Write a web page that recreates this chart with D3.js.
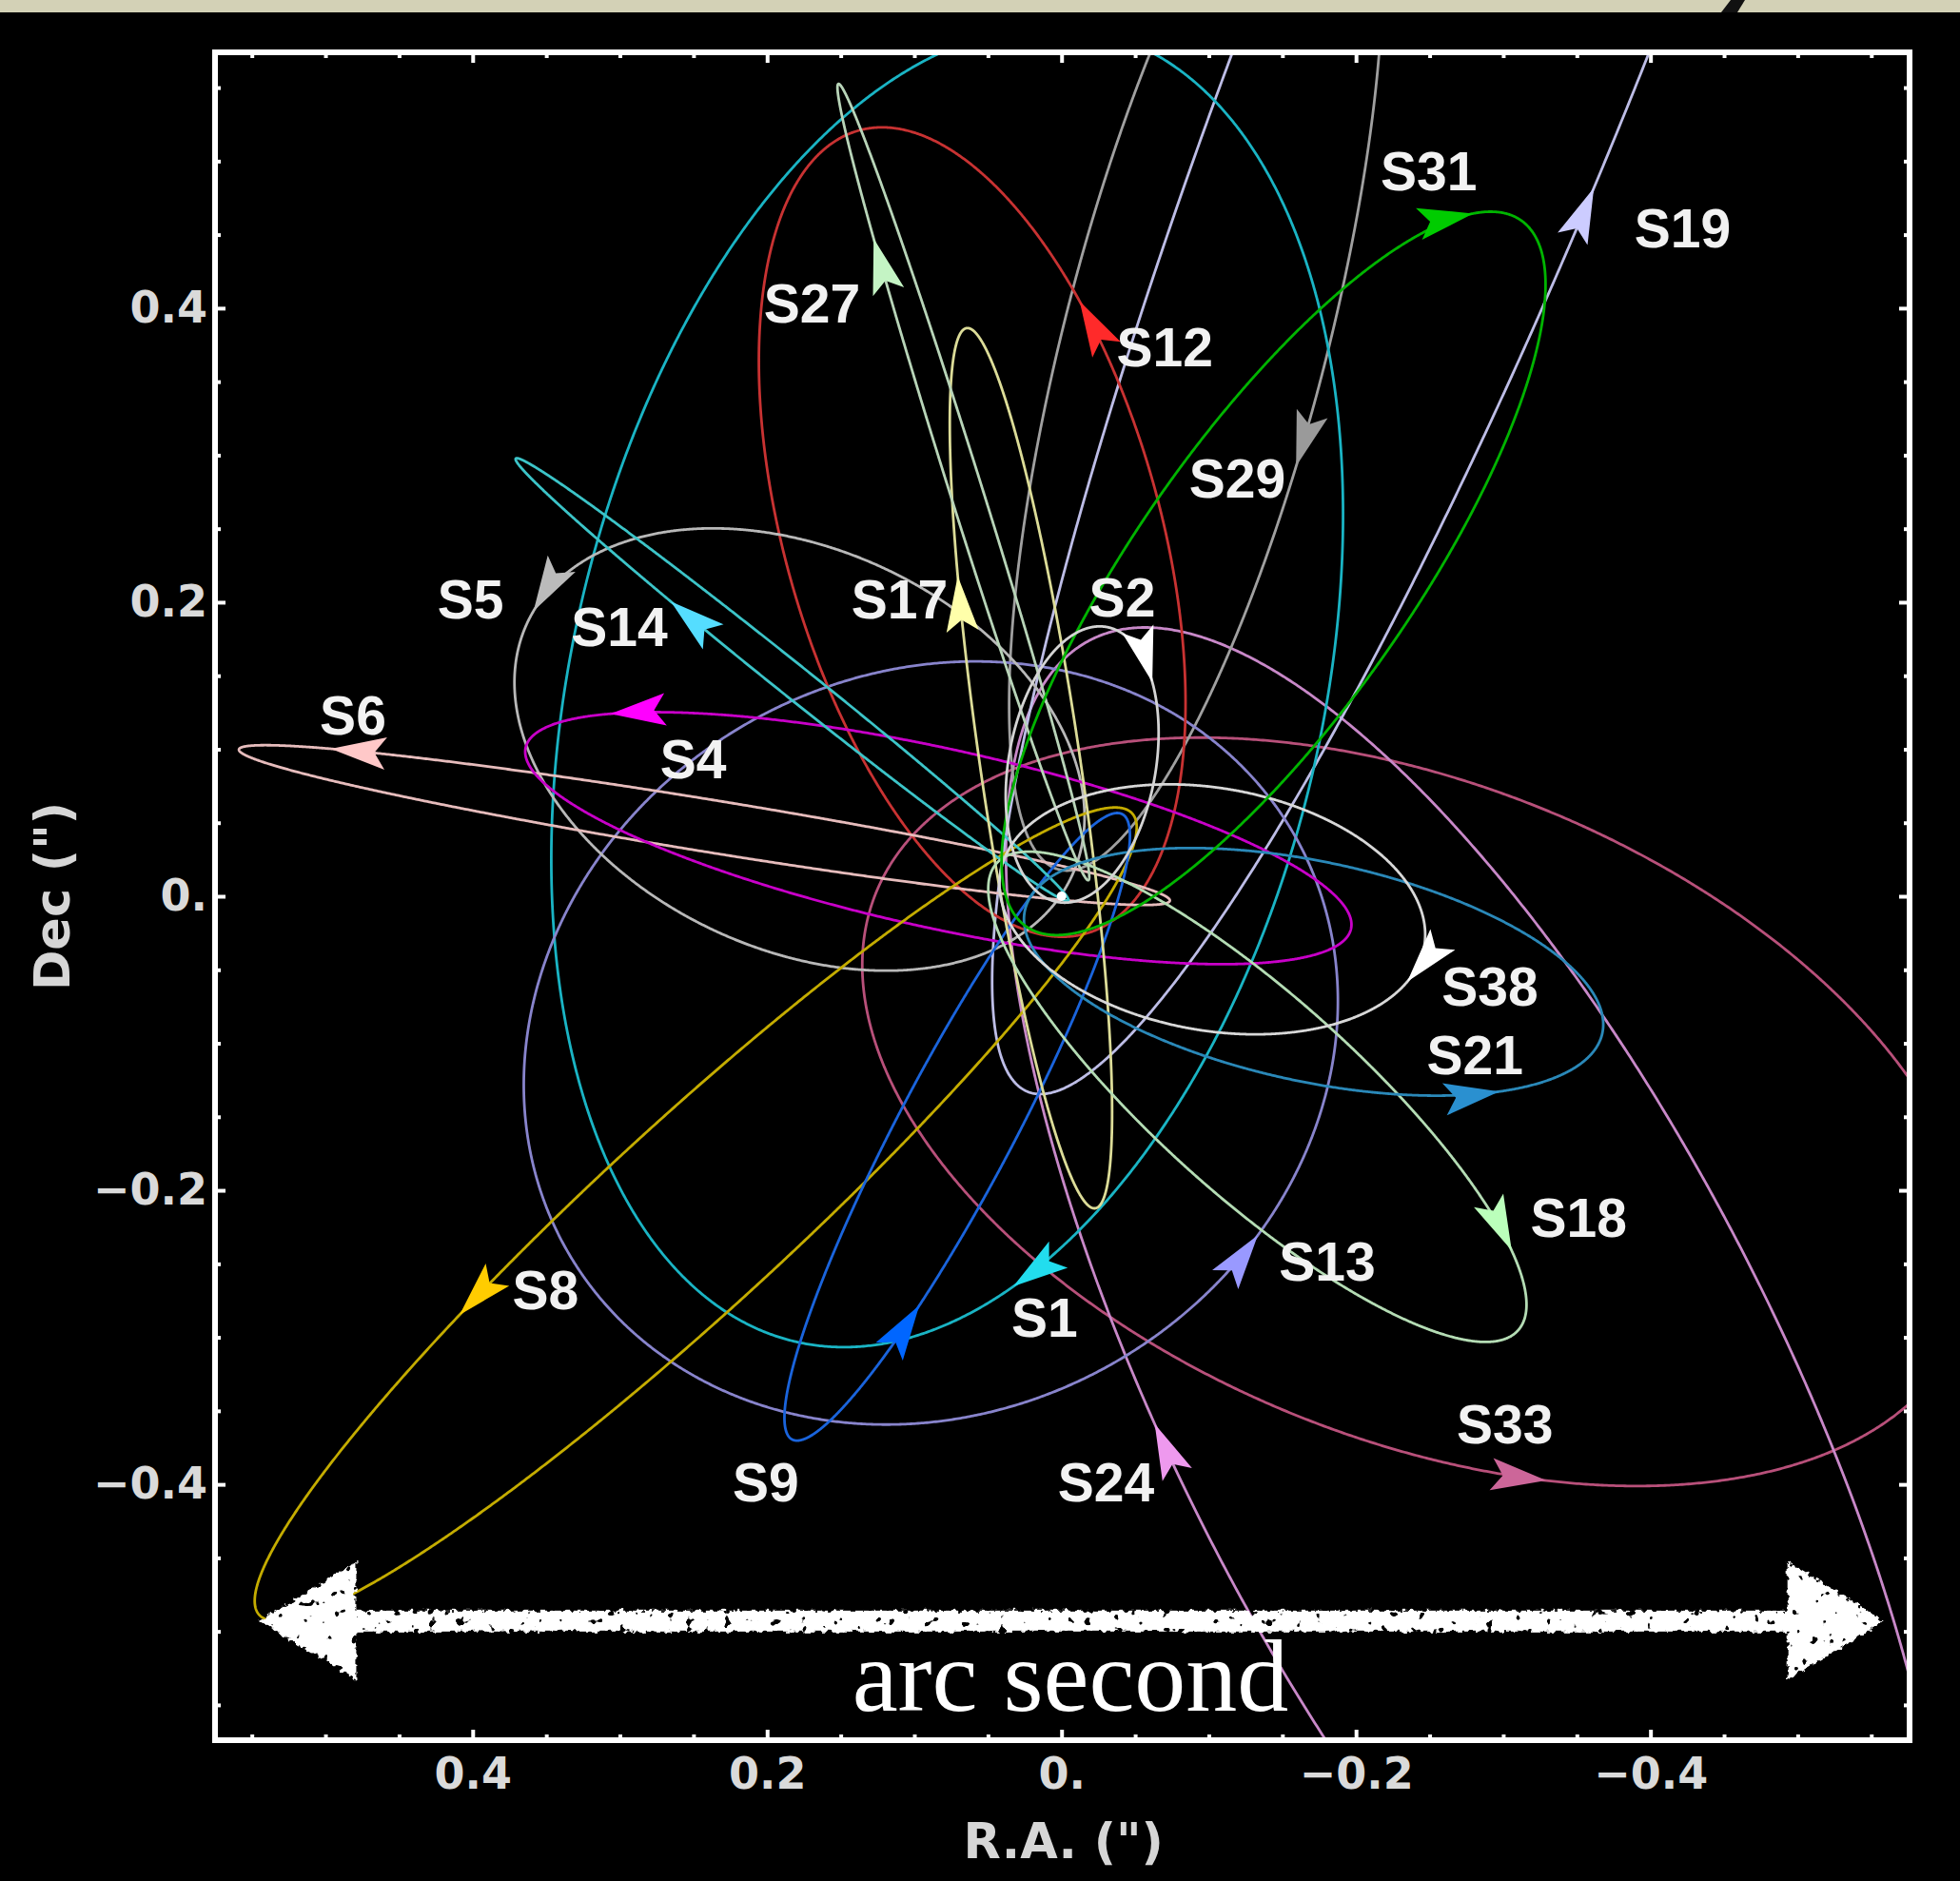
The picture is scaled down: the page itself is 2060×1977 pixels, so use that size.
<!DOCTYPE html>
<html>
<head>
<meta charset="utf-8">
<script src="https://cdn.jsdelivr.net/npm/d3@7"></script>
<style>
  html, body { margin: 0; padding: 0; background: #000; }
  svg { display: block; }
</style>
</head>
<body>
<svg id="chart" width="2060" height="1977"></svg>
<script>
// ---- Projected S-star orbits around Sgr A* (offsets in arcsec) ----
const starNames   = ["S33","S24","S19","S29","S1","S13","S12","S5","S6","S4","S8","S9","S14","S17","S27","S18","S21","S38","S31","S2"];
// ellipse centre (R.A., Dec), semi-axes and tilt of the long axis (deg, counter-clockwise on the sky image)
const centerRA    = [-0.2426,-0.2825,-0.2755,-0.0913, 0.0777, 0.0888, 0.0607, 0.1780, 0.2426, 0.0837, 0.2485, 0.0709, 0.1831, 0.0208, 0.0667,-0.1330,-0.1712,-0.1024,-0.1440,-0.0140];
const centerDec   = [-0.1466,-0.3411, 0.6206, 0.3802, 0.1423,-0.0998, 0.2477, 0.0998, 0.0484, 0.0395,-0.2162,-0.1568, 0.1474, 0.0871, 0.2817,-0.1364,-0.0514,-0.0089, 0.2196, 0.0896];
const semiMajor   = [ 0.3976, 0.5786, 0.8105, 0.3738, 0.4570, 0.2846, 0.2838, 0.2040, 0.3203, 0.2870, 0.4027, 0.2404, 0.2404, 0.3025, 0.2838, 0.2379, 0.2005, 0.1461, 0.2931, 0.0950];
const semiMinor   = [ 0.2226, 0.2056, 0.1321, 0.0892, 0.2550, 0.2506, 0.1274, 0.1360, 0.0178, 0.0610, 0.0637, 0.0391, 0.0110, 0.0340, 0.0110, 0.0680, 0.0748, 0.0824, 0.0935, 0.0500];
const tiltDeg     = [-22.0, -63.0,  68.4,  75.6,  77.0,  30.0, 105.8, -25.0, -9.24, -12.4,  42.6,  62.2, -38.7,  98.3, 107.4, -41.9, -12.0, -10.0,  55.0,  80.0];
const orbitColors = ["#b8507a","#c888c8","#bdbde6","#a0a0a0","#1ab4c4","#8884cc","#c83232","#b8b8b8","#e6bcbc","#c800c8","#c4ac00","#1a64dc","#3cc4c8","#dcdc98","#b8d4b8","#b4dcb4","#2a88b8","#d8d8d8","#00b400","#d4d4d4"];
const arrowColors = ["#cc6699","#ee99ee","#ccccff","#9a9a9a","#22ddee","#9999ff","#ff2a2a","#bbbbbb","#ffc8c8","#ff00ff","#ffcc00","#0066ff","#55ddff","#ffffaa","#c4f4c4","#bbffbb","#2a90d0","#ffffff","#00cc00","#ffffff"];
// arrowhead tip position and sense of motion (1 = counter-clockwise, -1 = clockwise)
const arrowRA     = [-0.3301,-0.0684,-0.3709,-0.1619, 0.0327,-0.1338,-0.0098, 0.3734, 0.4966, 0.3063, 0.4074, 0.1015, 0.2655, 0.0735, 0.1304,-0.3097,-0.2978,-0.2349,-0.2799,-0.0556];
const arrowDec    = [-0.3929,-0.3565, 0.4779, 0.2918,-0.2655,-0.2307, 0.4031, 0.2026, 0.0981, 0.1236,-0.2859,-0.2749, 0.2001, 0.2172, 0.4465,-0.2392,-0.1373,-0.0582, 0.4627, 0.1440];
const arrowSense  = [ 1, -1,  1, -1, -1,  1,  1,  1,  1,  1,  1,  1, -1, -1, -1, -1,  1, -1, -1, -1];
// star name positions
const labelRA     = [-0.3012,-0.0302,-0.4218,-0.1194, 0.0115,-0.1805,-0.0701, 0.4014, 0.4813, 0.2502, 0.3505, 0.2009, 0.3003, 0.1100, 0.1695,-0.3513,-0.2808,-0.2910,-0.2494,-0.0412];
const labelDec    = [-0.3589,-0.3989, 0.4541, 0.2842,-0.2868,-0.2485, 0.3734, 0.2018, 0.1228, 0.0930,-0.2681,-0.3989, 0.1831, 0.2018, 0.4031,-0.2188,-0.1083,-0.0616, 0.4932, 0.2035];

// axis ticks
const majorTicks  = [0.4, 0.2, 0, -0.2, -0.4];
const xTickLabels = ["0.4", "0.2", "0.", "\u22120.2", "\u22120.4"];
const yTickLabels = ["0.4", "0.2", "0.", "\u22120.2", "\u22120.4"];
const minorTicks  = d3.range(-11, 12).map(k => k * 0.05).filter(v => Math.abs(v * 5 - Math.round(v * 5)) > 1e-6);

// "arc second" scale bar (R.A. of both tips, Dec of the bar)
const scaleBarRA  = [0.545, -0.559];
const scaleBarDec = -0.493;
const scaleBarText = "arc second";
const scaleTextRA = -0.006, scaleTextDec = -0.554;

// ---- layout ----
const W = 2060, H = 1977;
const x = d3.scaleLinear().domain([0.575, -0.576]).range([226, 2007]);
const y = d3.scaleLinear().domain([-0.574, 0.574]).range([1829, 55]);
const [x0, x1] = x.range(), [y0, y1] = [y.range()[1], y.range()[0]];

const svg = d3.select("#chart");
const defs = svg.append("defs");

defs.append("clipPath").attr("id", "plotClip")
  .append("rect").attr("x", x0).attr("y", y0).attr("width", x1 - x0).attr("height", y1 - y0);

// chalky texture for the hand-drawn scale bar: ragged edges and a few dark specks
const chalk = defs.append("filter").attr("id", "chalk")
  .attr("x", "-5%").attr("y", "-30%").attr("width", "110%").attr("height", "160%");
chalk.append("feTurbulence").attr("type", "fractalNoise").attr("baseFrequency", 0.16)
  .attr("numOctaves", 2).attr("seed", 4).attr("result", "n1");
chalk.append("feDisplacementMap").attr("in", "SourceGraphic").attr("in2", "n1").attr("scale", 8)
  .attr("xChannelSelector", "R").attr("yChannelSelector", "G").attr("result", "rough");
chalk.append("feTurbulence").attr("type", "fractalNoise").attr("baseFrequency", 0.1)
  .attr("numOctaves", 2).attr("seed", 11).attr("result", "n2");
chalk.append("feColorMatrix").attr("in", "n2").attr("type", "matrix")
  .attr("values", "0 0 0 0 1  0 0 0 0 1  0 0 0 0 1  -22 0 0 0 16.2").attr("result", "holes");
chalk.append("feComposite").attr("in", "rough").attr("in2", "holes").attr("operator", "in");

// background and top strip
svg.append("rect").attr("width", W).attr("height", H).attr("fill", "#000");
svg.append("rect").attr("width", W).attr("height", 13).attr("fill", "#d3d1b6");
svg.append("path").attr("d", "M1819,0 L1834,0 L1826,13 L1809,13 Z").attr("fill", "#111");

// ---- orbits ----
function orbitPoint(i, t) {
  const a = semiMajor[i], b = semiMinor[i], ph = tiltDeg[i] * Math.PI / 180;
  const u = a * Math.cos(t), v = b * Math.sin(t);
  const right = u * Math.cos(ph) - v * Math.sin(ph);
  const up = u * Math.sin(ph) + v * Math.cos(ph);
  return [centerRA[i] - right, centerDec[i] + up];
}
const toScreen = p => [x(p[0]), y(p[1])];
const line = d3.line().x(d => x(d[0])).y(d => y(d[1])).curve(d3.curveLinearClosed);

const plot = svg.append("g").attr("clip-path", "url(#plotClip)");
const N = 1440;
plot.selectAll("path.orbit").data(starNames).join("path")
  .attr("class", "orbit")
  .attr("d", (s, i) => line(d3.range(N).map(k => orbitPoint(i, 2 * Math.PI * k / N))))
  .attr("fill", "none")
  .attr("stroke", (s, i) => orbitColors[i])
  .attr("stroke-width", 2.8);

// Sgr A*
plot.append("circle").attr("cx", x(0)).attr("cy", y(0)).attr("r", 5).attr("fill", "#fff");

// arrowheads showing the direction of motion
function arrowHead(i) {
  const target = toScreen([arrowRA[i], arrowDec[i]]);
  let best = 0, bestD = Infinity;
  for (let k = 0; k < 3600; k++) {
    const t = 2 * Math.PI * k / 3600;
    const p = toScreen(orbitPoint(i, t));
    const d = (p[0] - target[0]) ** 2 + (p[1] - target[1]) ** 2;
    if (d < bestD) { bestD = d; best = t; }
  }
  const p1 = toScreen(orbitPoint(i, best));
  const p2 = toScreen(orbitPoint(i, best + arrowSense[i] * 0.002));
  let dx = p2[0] - p1[0], dy = p2[1] - p1[1];
  const len = Math.hypot(dx, dy); dx /= len; dy /= len;
  const nx = -dy, ny = dx;
  const L = 58, Wd = 17, notch = 12;
  const pts = [
    [p1[0], p1[1]],
    [p1[0] - L * dx + Wd * nx, p1[1] - L * dy + Wd * ny],
    [p1[0] - (L - notch) * dx, p1[1] - (L - notch) * dy],
    [p1[0] - L * dx - Wd * nx, p1[1] - L * dy - Wd * ny]
  ];
  return "M" + pts.map(p => p[0].toFixed(1) + "," + p[1].toFixed(1)).join("L") + "Z";
}
plot.selectAll("path.head").data(starNames).join("path")
  .attr("class", "head")
  .attr("d", (s, i) => arrowHead(i))
  .attr("fill", (s, i) => arrowColors[i]);

// star names
svg.append("g").selectAll("text").data(starNames).join("text")
  .attr("x", (s, i) => x(labelRA[i]))
  .attr("y", (s, i) => y(labelDec[i]))
  .attr("text-anchor", "middle")
  .attr("dominant-baseline", "central")
  .attr("font-family", "'Liberation Sans', Arial, sans-serif")
  .attr("font-weight", "bold")
  .attr("font-size", 57)
  .attr("fill", "#f2f2f2")
  .text(s => s);

// ---- frame and ticks ----
svg.append("rect").attr("x", x0).attr("y", y0).attr("width", x1 - x0).attr("height", y1 - y0)
  .attr("fill", "none").attr("stroke", "#fff").attr("stroke-width", 6);

const tickFont = "'DejaVu Sans', Verdana, sans-serif";
function styleAxis(g, withText) {
  g.select(".domain").remove();
  g.selectAll(".tick line").attr("stroke", "#fff").attr("stroke-width", 4);
  g.selectAll(".tick text")
    .attr("font-family", tickFont).attr("font-weight", "bold").attr("font-size", 46)
    .attr("fill", "#dadada");
  if (!withText) g.selectAll(".tick text").remove();
}
svg.append("g").attr("transform", `translate(0,${y1})`)
  .call(d3.axisBottom(x).tickValues(majorTicks).tickFormat((d, i) => xTickLabels[i]).tickSize(-11).tickPadding(18))
  .call(g => styleAxis(g, true));
svg.append("g").attr("transform", `translate(0,${y0})`)
  .call(d3.axisTop(x).tickValues(majorTicks).tickSize(-11).tickFormat(""))
  .call(g => styleAxis(g, false));
svg.append("g").attr("transform", `translate(${x0},0)`)
  .call(d3.axisLeft(y).tickValues(majorTicks).tickFormat((d, i) => yTickLabels[i]).tickSize(-11).tickPadding(8))
  .call(g => styleAxis(g, true));
svg.append("g").attr("transform", `translate(${x1},0)`)
  .call(d3.axisRight(y).tickValues(majorTicks).tickSize(-11).tickFormat(""))
  .call(g => styleAxis(g, false));
// minor ticks
[[d3.axisBottom(x), `translate(0,${y1})`], [d3.axisTop(x), `translate(0,${y0})`],
 [d3.axisLeft(y), `translate(${x0},0)`], [d3.axisRight(y), `translate(${x1},0)`]].forEach(([ax, tr]) => {
  svg.append("g").attr("transform", tr)
    .call(ax.tickValues(minorTicks).tickSize(-6).tickFormat(""))
    .call(g => styleAxis(g, false));
});

// axis titles
svg.append("text").attr("x", x(0) + 2).attr("y", 1953)
  .attr("text-anchor", "middle").attr("font-family", tickFont).attr("font-weight", "bold")
  .attr("font-size", 51).attr("fill", "#d6d6d6").text("R.A. (\")");
svg.append("text").attr("transform", `translate(73,${y(0)}) rotate(-90)`)
  .attr("text-anchor", "middle").attr("font-family", tickFont).attr("font-weight", "bold")
  .attr("font-size", 51).attr("fill", "#d6d6d6").text("Dec (\")");

// ---- hand-drawn scale bar ----
const bar = svg.append("g").attr("filter", "url(#chalk)");
const bxL = x(scaleBarRA[0]), bxR = x(scaleBarRA[1]), by = y(scaleBarDec);
const headL = 102, headW = 62;
bar.append("rect").attr("x", bxL + headL - 10).attr("y", by - 11)
  .attr("width", bxR - bxL - 2 * headL + 20).attr("height", 22).attr("fill", "#fff");
bar.append("path").attr("d", `M${bxL},${by} L${bxL + headL},${by - headW} L${bxL + headL},${by + headW} Z`).attr("fill", "#fff");
bar.append("path").attr("d", `M${bxR},${by} L${bxR - headL},${by - headW} L${bxR - headL},${by + headW} Z`).attr("fill", "#fff");

svg.append("text").attr("x", x(scaleTextRA)).attr("y", y(scaleTextDec))
  .attr("text-anchor", "middle").attr("font-family", "'Liberation Serif', 'Times New Roman', serif")
  .attr("font-size", 108).attr("fill", "#fff").text(scaleBarText);
</script>
</body>
</html>
